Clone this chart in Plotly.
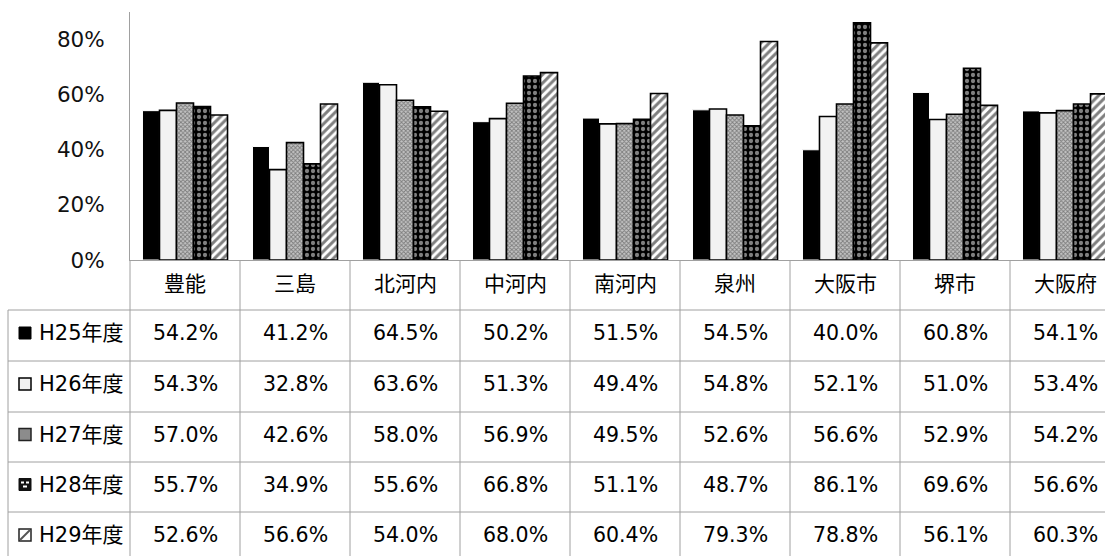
import plotly.graph_objects as go

# ---------------- data ----------------
categories = ["豊能", "三島", "北河内", "中河内", "南河内", "泉州", "大阪市", "堺市", "大阪府"]
series_names = ["H25年度", "H26年度", "H27年度", "H28年度", "H29年度"]
h25 = [54.2, 41.2, 64.5, 50.2, 51.5, 54.5, 40.0, 60.8, 54.1]
h26 = [54.3, 32.8, 63.6, 51.3, 49.4, 54.8, 52.1, 51.0, 53.4]
h27 = [57.0, 42.6, 58.0, 56.9, 49.5, 52.6, 56.6, 52.9, 54.2]
h28 = [55.7, 34.9, 55.6, 66.8, 51.1, 48.7, 86.1, 69.6, 56.6]
h29 = [52.6, 56.6, 54.0, 68.0, 60.4, 79.3, 78.8, 56.1, 60.3]
series_values = [h25, h26, h27, h28, h29]
y_ticks = [0, 20, 40, 60, 80]
y_tick_text = ["0%", "20%", "40%", "60%", "80%"]

# ---------------- layout geometry ----------------
W, H = 1105, 556
ML, MR, MT, MB = 130, 0, 12, 296
PW, PH = W - ML - MR, H - MT - MB
COL = 110.0
X_MIN = -0.5
X_MAX = X_MIN + PW / COL
Y_RANGE = [0, 90]

FONT = "DejaVu Sans, Noto Sans CJK JP, sans-serif"
CJK = "Noto Sans CJK JP, DejaVu Sans, sans-serif"
GRID = "#a0a0a0"


def px_x(px):
    return (px - ML) / PW


def px_y(py):
    return (MT + PH - py) / PH


def cat_x(v):
    return (v - X_MIN) / (X_MAX - X_MIN)


styles = [
    dict(color="#000000", line=dict(color="#ffffff", width=1)),
    dict(color="#f2f2f2", line=dict(color="#000000", width=1.6)),
    dict(color="#ffffff", line=dict(color="#000000", width=1.6),
         pattern=dict(shape="x", fgcolor="#333333", bgcolor="#c4c4c4", size=3, solidity=0.5)),
    dict(color="#000000", line=dict(color="#000000", width=1.6),
         pattern=dict(shape=".", fgcolor="#ffffff", bgcolor="#000000", size=6, solidity=0.4)),
    dict(color="#ffffff", line=dict(color="#000000", width=1.6),
         pattern=dict(shape="/", fgcolor="#000000", bgcolor="#ffffff", size=6, solidity=0.5)),
]

fig = go.Figure()
for name, vals, st in zip(series_names, series_values, styles):
    fig.add_trace(go.Bar(x=list(range(len(categories))), y=vals, name=name,
                         marker=st, showlegend=False))

shapes = []
annotations = []

# header / row borders
row_lines = [310, 361, 412, 462, 512]
for yy in row_lines:
    shapes.append(dict(type="line", xref="paper", yref="paper",
                       x0=px_x(8), x1=1.0, y0=px_y(yy), y1=px_y(yy),
                       line=dict(color=GRID, width=1)))
# left border of label column
shapes.append(dict(type="line", xref="paper", yref="paper",
                   x0=px_x(8), x1=px_x(8), y0=px_y(310), y1=px_y(H + 5),
                   line=dict(color=GRID, width=1)))
# column separators
for k in range(len(categories) + 1):
    xv = cat_x(k - 0.5)
    if xv <= 1.0:
        shapes.append(dict(type="line", xref="paper", yref="paper",
                           x0=xv, x1=xv, y0=px_y(260), y1=px_y(H + 5),
                           line=dict(color=GRID, width=1)))

# header text
for j, c in enumerate(categories):
    annotations.append(dict(x=j, y=px_y(282), xref="x", yref="paper", text=c,
                            showarrow=False, font=dict(family=CJK, size=21, color="#000"),
                            xanchor="center", yanchor="middle"))

row_centers = [335.5, 386.5, 437, 487, 537.5]
for i, (name, vals) in enumerate(zip(series_names, series_values)):
    yc = row_centers[i] - 2.5
    for j, v in enumerate(vals):
        annotations.append(dict(x=j, y=px_y(yc), xref="x", yref="paper",
                                text=f"{v:.1f}%", showarrow=False,
                                font=dict(family=FONT, size=20.5, color="#000"),
                                xanchor="center", yanchor="middle"))
    annotations.append(dict(x=px_x(37), y=px_y(yc), xref="paper", yref="paper",
                            text=name, showarrow=False,
                            font=dict(family=FONT, size=21, color="#000"),
                            xanchor="left", yanchor="middle"))
    # legend keys
    k0, k1 = 19, 31
    ky0, ky1 = yc - 6, yc + 6
    key = dict(type="rect", xref="paper", yref="paper",
               x0=px_x(k0), x1=px_x(k1), y0=px_y(ky1), y1=px_y(ky0))
    if i == 0:
        shapes.append({**key, "fillcolor": "#000", "line": dict(color="#000", width=1)})
    elif i == 1:
        shapes.append({**key, "fillcolor": "#f2f2f2", "line": dict(color="#000", width=1.5)})
    elif i == 2:
        shapes.append({**key, "fillcolor": "#8c8c8c", "line": dict(color="#222", width=1.5)})
    elif i == 3:
        shapes.append({**key, "fillcolor": "#111", "line": dict(color="#111", width=1)})
        for (a, b, c0, d) in [(21, 24, ky0 + 3, ky0 + 5), (26, 29, ky0 + 3, ky0 + 5),
                              (23, 27, ky0 + 7, ky0 + 9)]:
            shapes.append(dict(type="rect", xref="paper", yref="paper",
                               x0=px_x(a), x1=px_x(b), y0=px_y(d), y1=px_y(c0),
                               fillcolor="#fff", line=dict(width=0)))
    else:
        shapes.append({**key, "fillcolor": "#fff", "line": dict(color="#222", width=1.5)})
        shapes.append(dict(type="line", xref="paper", yref="paper",
                           x0=px_x(k0 + 1), x1=px_x(k1 - 1), y0=px_y(ky1 - 1), y1=px_y(ky0 + 1),
                           line=dict(color="#555", width=2)))

fig.update_layout(
    width=W, height=H,
    margin=dict(l=ML, r=MR, t=MT, b=MB, pad=0),
    paper_bgcolor="#ffffff", plot_bgcolor="#ffffff",
    barmode="group", bargap=0.227, bargroupgap=0,
    shapes=shapes, annotations=annotations,
    font=dict(family=FONT, color="#000"),
    xaxis=dict(range=[X_MIN, X_MAX], showticklabels=False, ticks="",
               showgrid=False, zeroline=False, showline=True,
               linecolor=GRID, linewidth=1, fixedrange=True),
    yaxis=dict(range=Y_RANGE, tickmode="array", tickvals=y_ticks, ticktext=y_tick_text,
               showgrid=False, zeroline=False, showline=True,
               linecolor=GRID, linewidth=1, ticks="",
               tickfont=dict(family=FONT, size=21.5, color="#111"),
               ticklabelstandoff=20, fixedrange=True),
)

fig.write_html("out.html")
